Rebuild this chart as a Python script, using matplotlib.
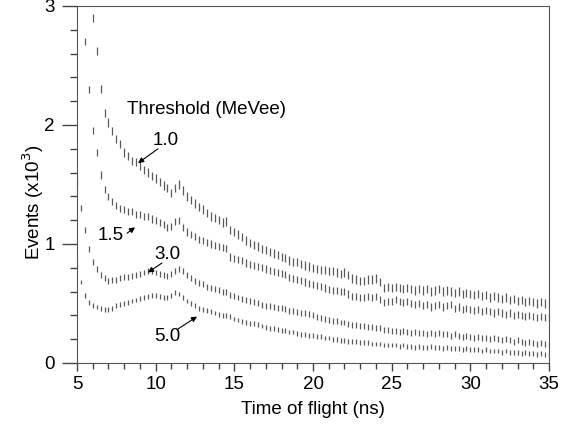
import numpy as np
import matplotlib
matplotlib.use("Agg")
import matplotlib.pyplot as plt
from matplotlib.ticker import MultipleLocator

plt.rcParams['font.family'] = ['Liberation Sans', 'DejaVu Sans']

# time-of-flight bins (ns), 0.25 ns wide
tof = np.arange(5.0, 35.001, 0.25)

# events (x10^3) per threshold
ev_10 = [4.00, 3.80, 3.50, 3.20, 2.90, 2.62, 2.30, 2.10,
         2.02, 1.95, 1.88, 1.84, 1.77, 1.74, 1.70, 1.69,
         1.66, 1.62, 1.60, 1.57, 1.55, 1.52, 1.49, 1.47,
         1.43, 1.47, 1.50, 1.45, 1.40, 1.37, 1.34, 1.31,
         1.29, 1.26, 1.23, 1.22, 1.20, 1.18, 1.19, 1.12,
         1.10, 1.08, 1.06, 1.03, 1.01, 0.99, 0.98, 0.96,
         0.95, 0.93, 0.92, 0.91, 0.89, 0.88, 0.86, 0.85,
         0.85, 0.83, 0.82, 0.81, 0.80, 0.79, 0.78, 0.78,
         0.77, 0.77, 0.76, 0.75, 0.76, 0.74, 0.71, 0.70,
         0.69, 0.69, 0.70, 0.70, 0.71, 0.68, 0.63, 0.64,
         0.63, 0.64, 0.63, 0.62, 0.63, 0.62, 0.61, 0.62,
         0.61, 0.62, 0.60, 0.61, 0.62, 0.60, 0.61, 0.60,
         0.59, 0.60, 0.58, 0.59, 0.58, 0.57, 0.58, 0.56,
         0.57, 0.55, 0.56, 0.55, 0.54, 0.55, 0.53, 0.54,
         0.52, 0.53, 0.51, 0.52, 0.51, 0.50, 0.51, 0.50,
         0.49]
ev_15 = [4.00, 3.10, 2.70, 2.30, 1.95, 1.77, 1.58, 1.46,
         1.40, 1.36, 1.32, 1.30, 1.29, 1.27, 1.27, 1.25,
         1.25, 1.23, 1.23, 1.21, 1.20, 1.18, 1.16, 1.14,
         1.15, 1.19, 1.20, 1.14, 1.10, 1.08, 1.06, 1.04,
         1.03, 1.01, 1.00, 0.99, 0.98, 0.97, 0.96, 0.89,
         0.88, 0.87, 0.86, 0.84, 0.83, 0.82, 0.81, 0.80,
         0.79, 0.78, 0.77, 0.76, 0.75, 0.74, 0.72, 0.71,
         0.70, 0.69, 0.68, 0.67, 0.66, 0.65, 0.64, 0.63,
         0.62, 0.61, 0.61, 0.60, 0.60, 0.58, 0.56, 0.56,
         0.55, 0.55, 0.56, 0.55, 0.56, 0.53, 0.51, 0.52,
         0.52, 0.53, 0.52, 0.51, 0.52, 0.50, 0.49, 0.50,
         0.48, 0.49, 0.47, 0.48, 0.49, 0.47, 0.48, 0.49,
         0.46, 0.47, 0.45, 0.46, 0.45, 0.44, 0.45, 0.43,
         0.44, 0.43, 0.42, 0.43, 0.42, 0.41, 0.42, 0.40,
         0.41, 0.40, 0.39, 0.40, 0.39, 0.38, 0.39, 0.38,
         0.38]
ev_30 = [1.52, 1.30, 1.12, 0.96, 0.85, 0.79, 0.74, 0.71,
         0.69, 0.70, 0.70, 0.71, 0.72, 0.72, 0.73, 0.74,
         0.75, 0.76, 0.77, 0.77, 0.76, 0.75, 0.74, 0.73,
         0.75, 0.77, 0.79, 0.77, 0.74, 0.71, 0.69, 0.67,
         0.66, 0.64, 0.63, 0.62, 0.61, 0.60, 0.60, 0.57,
         0.56, 0.55, 0.54, 0.53, 0.52, 0.51, 0.50, 0.49,
         0.48, 0.48, 0.47, 0.46, 0.46, 0.45, 0.44, 0.44,
         0.43, 0.42, 0.42, 0.41, 0.40, 0.39, 0.38, 0.37,
         0.36, 0.35, 0.35, 0.34, 0.34, 0.33, 0.32, 0.32,
         0.31, 0.31, 0.30, 0.30, 0.29, 0.29, 0.28, 0.28,
         0.27, 0.27, 0.26, 0.27, 0.26, 0.25, 0.26, 0.25,
         0.25, 0.24, 0.25, 0.24, 0.25, 0.24, 0.24, 0.23,
         0.24, 0.23, 0.22, 0.23, 0.22, 0.21, 0.22, 0.21,
         0.21, 0.20, 0.21, 0.20, 0.19, 0.20, 0.19, 0.18,
         0.19, 0.18, 0.17, 0.18, 0.17, 0.16, 0.17, 0.16,
         0.16]
ev_50 = [0.82, 0.68, 0.57, 0.51, 0.48, 0.47, 0.46, 0.45,
         0.45, 0.46, 0.48, 0.49, 0.50, 0.51, 0.52, 0.53,
         0.54, 0.55, 0.56, 0.57, 0.57, 0.56, 0.55, 0.55,
         0.57, 0.59, 0.58, 0.55, 0.52, 0.50, 0.48, 0.46,
         0.45, 0.44, 0.43, 0.42, 0.41, 0.40, 0.40, 0.39,
         0.37, 0.36, 0.35, 0.34, 0.33, 0.33, 0.32, 0.31,
         0.30, 0.29, 0.29, 0.28, 0.27, 0.27, 0.26, 0.26,
         0.25, 0.24, 0.24, 0.23, 0.23, 0.22, 0.22, 0.21,
         0.21, 0.20, 0.20, 0.19, 0.19, 0.18, 0.18, 0.18,
         0.17, 0.17, 0.17, 0.16, 0.16, 0.16, 0.15, 0.15,
         0.15, 0.15, 0.14, 0.15, 0.14, 0.14, 0.13, 0.14,
         0.13, 0.13, 0.14, 0.13, 0.13, 0.12, 0.13, 0.12,
         0.12, 0.12, 0.11, 0.12, 0.11, 0.11, 0.11, 0.10,
         0.11, 0.10, 0.10, 0.10, 0.09, 0.10, 0.09, 0.09,
         0.09, 0.08, 0.09, 0.08, 0.08, 0.07, 0.08, 0.07,
         0.07]

thresholds = ['1.0', '1.5', '3.0', '5.0']
series = [ev_10, ev_15, ev_30, ev_50]

fig = plt.figure(figsize=(5.64, 4.28), dpi=100)
ax = fig.add_axes([0.1365, 0.152, 0.837, 0.834])

# each bin is drawn as a short vertical bar, like the original histogram
half = [0.035, 0.03, 0.025, 0.02]
for ev, h in zip(series, half):
    assert len(ev) == len(tof)
    ax.errorbar(tof, ev, yerr=h, fmt='none', ecolor='#5a5a5a',
                elinewidth=0.9, capsize=0)

ax.set_xlim(5, 35)
ax.set_ylim(0, 3)
ax.xaxis.set_major_locator(MultipleLocator(5))
ax.xaxis.set_minor_locator(MultipleLocator(1))
ax.yaxis.set_major_locator(MultipleLocator(1))
ax.yaxis.set_minor_locator(MultipleLocator(0.2))
ax.tick_params(which='major', direction='out', length=6, width=1,
               labelsize=13.5, color='#444444')
ax.tick_params(which='minor', direction='out', length=4, width=1,
               color='#444444')
ax.tick_params(axis='y', which='major', length=11, pad=5)
ax.tick_params(axis='y', which='minor', length=5)
for s in ax.spines.values():
    s.set_color('#555555')

ax.set_xlabel('Time of flight (ns)', fontsize=13.5, labelpad=6)
ax.set_ylabel('Events (x10$^3$)', fontsize=13.5)
ax.yaxis.set_label_coords(-0.066, 0.45)

ax.text(8.18, 2.13, 'Threshold (MeVee)', fontsize=13.5, ha='left', va='center')

# threshold labels with arrows: (text pos, arrow tail, arrow head)
label_pos = [(10.66, 1.87), (7.16, 1.07), (10.72, 0.91), (10.72, 0.22)]
arrow_tail = [(10.15, 1.80), (8.18, 1.09), (10.40, 0.84), (11.36, 0.28)]
arrow_head = [(8.88, 1.68), (8.69, 1.14), (9.51, 0.76), (12.63, 0.39)]
for lab, p, t, hd in zip(thresholds, label_pos, arrow_tail, arrow_head):
    ax.text(p[0], p[1], lab, fontsize=13.5, ha='center', va='center')
    ax.annotate('', xy=hd, xytext=t,
                arrowprops=dict(arrowstyle='-|>', color='black', lw=0.8,
                                mutation_scale=8, shrinkA=0, shrinkB=0))

fig.savefig('out.png', dpi=100)
